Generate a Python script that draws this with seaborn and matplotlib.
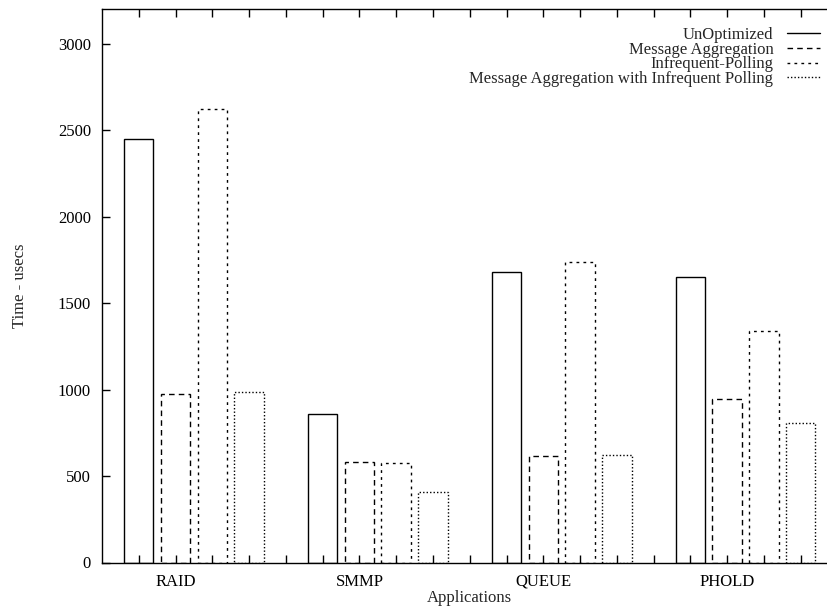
import matplotlib
matplotlib.use("Agg")
import matplotlib.pyplot as plt
import pandas as pd
import seaborn as sns
from matplotlib.lines import Line2D

# applications and series (usecs)
apps = ["RAID", "SMMP", "QUEUE", "PHOLD"]
series = ["UnOptimized", "Message Aggregation", "Infrequent-Polling",
          "Message Aggregation with Infrequent Polling"]
unoptimized = [2450, 857, 1681, 1652]
msg_aggregation = [975, 583, 617, 943]
infrequent_polling = [2620, 573, 1735, 1338]
msg_agg_infreq = [985, 409, 620, 808]

values = [unoptimized, msg_aggregation, infrequent_polling, msg_agg_infreq]
styles = ["-", (0, (4, 3)), (0, (2, 3)), (0, (1, 1.5))]

# gnuplot-like histogram: 4 bars per group, one empty slot between groups
rows = []
for s, (name, vals) in enumerate(zip(series, values)):
    for g, (app, v) in enumerate(zip(apps, vals)):
        rows.append({"pos": g * 5 + s, "series": name, "app": app, "time": v})
df = pd.DataFrame(rows)

sns.set_theme(style="ticks")
plt.rcParams["font.family"] = ["Liberation Serif", "DejaVu Serif"]
fs = 12
plt.rcParams["font.size"] = fs

fig = plt.figure(figsize=(8.28, 6.07), dpi=100)
ax = fig.add_axes([102 / 828, 1 - 562.5 / 607, (837.5 - 102) / 828, (562.5 - 9) / 607])

sns.barplot(data=df, x="pos", y="time", native_scale=True, errorbar=None,
            color="white", edgecolor="black", linewidth=1.0, ax=ax)

for p in ax.patches:
    cx = p.get_x() + p.get_width() / 2
    s = int(round(cx)) % 5
    p.set_facecolor("white")
    p.set_edgecolor("black")
    p.set_linestyle(styles[s])

ax.set_axisbelow(False)
ax.set_xlim(-1, 19)
ax.set_ylim(0, 3200)
ax.set_yticks(range(0, 3001, 500))
ticks = list(range(19))
labels = [""] * 19
for g, app in enumerate(apps):
    labels[g * 5 + 1] = app
ax.set_xticks(ticks)
ax.set_xticklabels(labels)
ax.tick_params(direction="in", length=6, width=1, top=True, right=True,
               labelsize=fs, colors="black")
ax.tick_params(axis="x", pad=8)
ax.tick_params(axis="y", pad=8)
for sp in ax.spines.values():
    sp.set_linewidth(1)
    sp.set_color("black")

ax.set_xlabel("Applications", fontsize=fs)
ax.set_ylabel("Time - usecs", fontsize=fs)
ax.xaxis.set_label_coords(0.5, -0.05)
ax.yaxis.set_label_coords(-0.100, 0.5)

handles = [Line2D([0], [0], color="black", lw=1, linestyle=ls) for ls in styles]
ax.legend(handles, series, loc="upper right", bbox_to_anchor=(820 / 828, 1 - 27 / 607),
          bbox_transform=fig.transFigure, frameon=False, markerfirst=False,
          handlelength=2.0, handletextpad=0.8, labelspacing=-0.08,
          borderpad=0, borderaxespad=0, fontsize=fs)

fig.savefig("out.png", dpi=100)
